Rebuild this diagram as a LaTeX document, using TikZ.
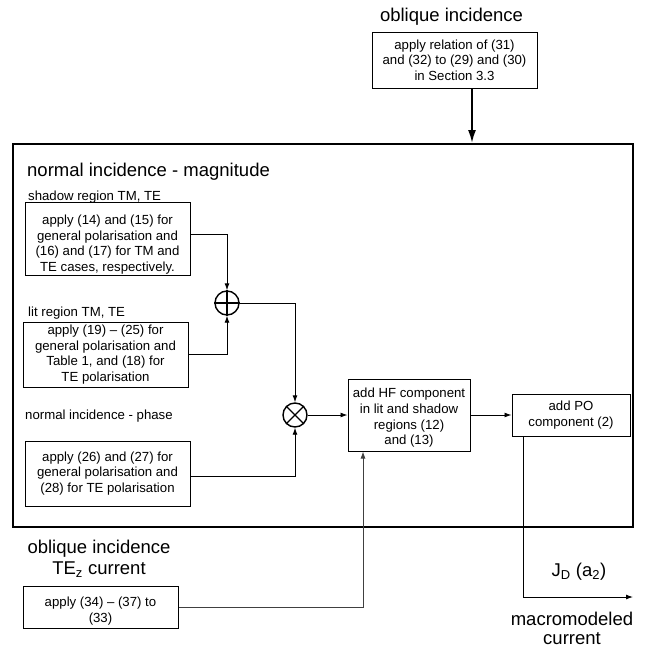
\documentclass[tikz,border=0pt]{standalone}
\usepackage{fontspec}
\setmainfont{Liberation Sans}
\usetikzlibrary{arrows.meta}
\begin{document}
\begin{tikzpicture}[x=1pt,y=-1pt,
  box/.style={draw, line width=1pt, align=center, inner sep=0pt, font=\fontsize{13.2}{15.7}\selectfont},
  boxtext/.style={inner sep=0pt, align=center, font=\fontsize{13.2}{15.7}\selectfont},
  lbl/.style={inner sep=0pt, anchor=west, font=\fontsize{13.2}{15.7}\selectfont},
  biglbl/.style={inner sep=0pt, align=center, font=\fontsize{18.5}{21}\selectfont},
  plainbig/.style={inner sep=0pt, font=\fontsize{18.5}{21}\selectfont},
  conn/.style={line width=0.9pt, -{Latex[length=7pt,width=5pt]}},
  bigconn/.style={line width=1.8pt, -{Latex[length=13pt,width=8pt]}},
  op/.style={circle, draw, line width=1.4pt, minimum size=24pt, inner sep=0pt}]
\useasboundingbox (0,0) rectangle (646,648);

% top
\node[biglbl] (obltitle) at (451.5,17) {oblique incidence};
\node[box, minimum width=165pt, minimum height=56pt] (top) at (454.5,60)
  {apply relation of (31)\\and (32) to (29) and (30)\\in Section 3.3};

% big frame
\node[draw, line width=2pt, minimum width=620pt, minimum height=383pt, inner sep=0pt] (big) at (323,335.5) {};
\coordinate (tb) at ([xshift=17.5pt]top.south);
\draw[bigconn] (tb) -- (tb |- big.north);

\node[biglbl, anchor=west] (magtitle) at (27,172) {normal incidence - magnitude};
\node[lbl] (shadowlbl) at (28,197) {shadow region TM, TE};
\node[box, minimum width=165pt, minimum height=73pt] (shadow) at (107.5,238.5) {};
\node[boxtext] (shadowtxt) at ([yshift=-6pt]shadow.center)
  {apply (14) and (15) for\\general polarisation and\\(16) and (17) for TM and\\TE cases, respectively.};
\node[lbl] (litlbl) at (28,313) {lit region TM, TE};
\node[box, minimum width=165pt, minimum height=65pt] (lit) at (105.5,354.5)
  {apply (19) -- (25) for\\general polarisation and\\Table 1, and (18) for\\TE polarisation};
\node[lbl] (phaselbl) at (25,416) {normal incidence - phase};
\node[box, minimum width=165pt, minimum height=65pt] (phase) at (107.5,473.5)
  {apply (26) and (27) for\\general polarisation and\\(28) for TE polarisation};

\node[op] (plus) at (227,303) {};
\draw[line width=1.4pt] (plus.north) -- (plus.south) (plus.west) -- (plus.east);
\node[op] (times) at (295,415) {};
\draw[line width=1.4pt] (times.north east) -- (times.south west) (times.north west) -- (times.south east);

\node[box, minimum width=122pt, minimum height=72pt] (hf) at (409,415) {};
\node[boxtext] (hftxt) at ([yshift=-3pt]hf.center)
  {add HF component\\in lit and shadow\\regions (12)\\and (13)};
\node[box, minimum width=118pt, minimum height=42pt] (po) at (571,415)
  {add PO\\component (2)};

\draw[conn] ([yshift=4.5pt]shadow.east) -| (plus.north);
\draw[conn] (lit.east) -| (plus.south);
\draw[conn] (plus.east) -| (times.north);
\draw[conn] ([yshift=-2.5pt]phase.east) -| (times.south);
\draw[conn] (times.east) -- (hf.west);
\draw[conn] (hf.east) -- (po.west);

% bottom
\node[biglbl] (obl2) at (99,558.5) {oblique incidence\\TE\textsubscript{z} current};
\node[box, minimum width=155pt, minimum height=42pt] (obl) at (100.5,607) {};
\node[boxtext] (obltxt) at ([yshift=-4pt]obl.center) {apply (34) -- (37) to\\(33)};
\draw[conn, draw=black!75] (obl.east) -| ([xshift=-46pt]hf.south);

\coordinate (outend) at (633,597);
\draw[conn] ([xshift=-48pt]po.south) |- (outend);
\node[biglbl] (jd) at (579,572) {J\textsubscript{D} (a\textsubscript{2})};
\node[plainbig, anchor=base] (macro1) at (572,625.5) {macromodeled};
\node[plainbig, anchor=base] (macro2) at (572,644.5) {current};
\end{tikzpicture}
\end{document}
